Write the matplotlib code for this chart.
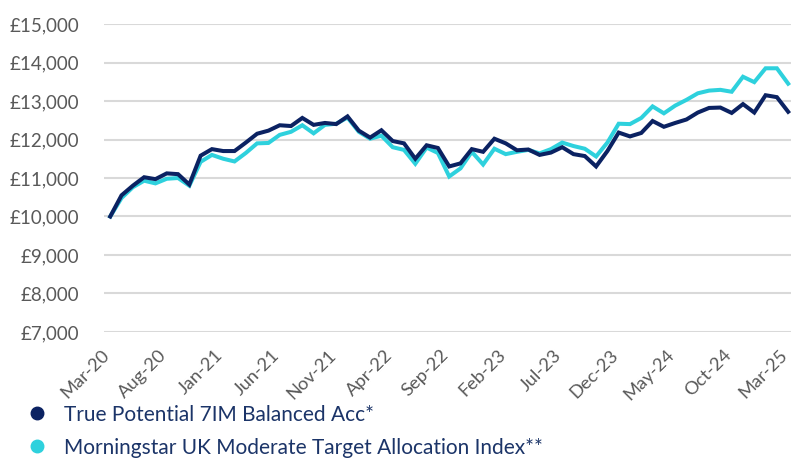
import matplotlib

matplotlib.use("Agg")
import matplotlib.pyplot as plt
import matplotlib.transforms as mtransforms
from matplotlib.lines import Line2D
from matplotlib.ticker import FuncFormatter

# Monthly values, Mar-20 .. Mar-25
months = [
    "Mar-20", "Apr-20", "May-20", "Jun-20", "Jul-20", "Aug-20", "Sep-20", "Oct-20", "Nov-20", "Dec-20",
    "Jan-21", "Feb-21", "Mar-21", "Apr-21", "May-21", "Jun-21", "Jul-21", "Aug-21", "Sep-21", "Oct-21",
    "Nov-21", "Dec-21", "Jan-22", "Feb-22", "Mar-22", "Apr-22", "May-22", "Jun-22", "Jul-22", "Aug-22",
    "Sep-22", "Oct-22", "Nov-22", "Dec-22", "Jan-23", "Feb-23", "Mar-23", "Apr-23", "May-23", "Jun-23",
    "Jul-23", "Aug-23", "Sep-23", "Oct-23", "Nov-23", "Dec-23", "Jan-24", "Feb-24", "Mar-24", "Apr-24",
    "May-24", "Jun-24", "Jul-24", "Aug-24", "Sep-24", "Oct-24", "Nov-24", "Dec-24", "Jan-25", "Feb-25",
    "Mar-25",
]

fund = [
    10000, 10550, 10800, 11020, 10970, 11120, 11100, 10830, 11580, 11750,
    11700, 11700, 11920, 12150, 12230, 12370, 12350, 12560, 12380, 12430,
    12400, 12600, 12230, 12050, 12240, 11960, 11900, 11500, 11850, 11780,
    11300, 11380, 11750, 11680, 12020, 11900, 11720, 11740, 11600, 11660,
    11800, 11620, 11570, 11300, 11700, 12180, 12080, 12170, 12480, 12330,
    12430, 12520, 12700, 12820, 12830, 12690, 12920, 12700, 13150, 13100,
    12720,
]

index = [
    10000, 10480, 10760, 10930, 10860, 10980, 11000, 10800, 11420, 11600,
    11500, 11430, 11650, 11900, 11910, 12120, 12200, 12370, 12160, 12380,
    12410, 12570, 12200, 12020, 12100, 11800, 11730, 11370, 11790, 11650,
    11040, 11250, 11680, 11350, 11760, 11620, 11680, 11730, 11640, 11750,
    11920, 11830, 11760, 11560, 11920, 12410, 12400, 12560, 12860, 12680,
    12880, 13030, 13200, 13270, 13290, 13240, 13630, 13490, 13850, 13850,
    13450,
]

labels = [
    "True Potential 7IM Balanced Acc*",
    "Morningstar UK Moderate Target Allocation Index**",
]

NAVY = "#0B2262"
CYAN = "#2ED1DD"
GREY = "#595959"

plt.rcParams["font.family"] = ["Lato", "DejaVu Sans"]

fig = plt.figure(figsize=(7.91, 4.59), dpi=100)
ax = fig.add_axes([0.1315, 0.2767, 0.8685, 0.671])

x = list(range(len(months)))
ax.plot(x, index, color=CYAN, linewidth=2.9, solid_joinstyle="miter", zorder=3)
ax.plot(x, fund, color=NAVY, linewidth=2.9, solid_joinstyle="miter", zorder=4)

ax.set_ylim(7000, 15000)
ax.set_yticks(range(7000, 15001, 1000))
ax.yaxis.set_major_formatter(FuncFormatter(lambda v, _: f"£{v:,.0f}"))
ax.set_xlim(-0.55, 60.25)
ax.set_xticks(x[::5])
ax.set_xticklabels(months[::5], rotation=45, ha="right", va="center_baseline", rotation_mode="anchor")

ax.grid(axis="y", color="#D9D9D9", linewidth=1.5)
ax.set_axisbelow(True)
for s in ax.spines.values():
    s.set_visible(False)
ax.tick_params(length=0, labelsize=13.5, labelcolor=GREY)
ax.tick_params(axis="y", pad=18)
ax.tick_params(axis="x", labelsize=13.2, pad=14)

# nudge the rotated month labels a little left so the last one stays inside
shift = mtransforms.ScaledTranslation(-4 / 100, 0, fig.dpi_scale_trans)
for lbl in ax.get_xticklabels():
    lbl.set_transform(lbl.get_transform() + shift)

handles = [
    Line2D([], [], linestyle="none", marker="o", markersize=9, color=NAVY),
    Line2D([], [], linestyle="none", marker="o", markersize=9, color=CYAN),
]
leg = fig.legend(
    handles, labels, loc="upper left", bbox_to_anchor=(0.022, 0.141), frameon=False,
    fontsize=15, handlelength=0.9, handletextpad=0.85, labelspacing=0.62, borderpad=0,
)
for t in leg.get_texts():
    t.set_color("#1B3468")

fig.savefig("out.png", dpi=100)
